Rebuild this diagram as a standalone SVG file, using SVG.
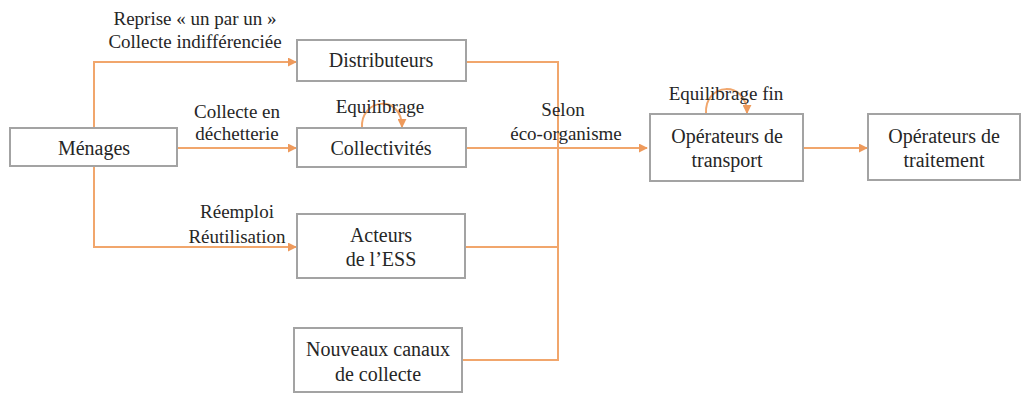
<svg xmlns="http://www.w3.org/2000/svg" width="1030" height="395" viewBox="0 0 1030 395" font-family="Liberation Serif, Tinos, DejaVu Serif, Noto Serif, serif">
<style>
.box{fill:#fff;stroke:#a3a3a3;stroke-width:2}
.t{font-size:19px;fill:#262626;text-anchor:middle}
.n{font-size:20px;fill:#262626;text-anchor:middle}
.c{fill:none;stroke:#f1a66c;stroke-width:2}
</style>
<defs>
<marker id="ah" viewBox="0 0 10 10" refX="9" refY="5" markerWidth="9" markerHeight="9" markerUnits="userSpaceOnUse" orient="auto">
<path d="M0,0 L10,5 L0,10 z" fill="#ee9a5c"/>
</marker>
</defs>
<rect width="1030" height="395" fill="#fff"/>
<g id="connectors">
<path class="c" d="M94,128 V62 H296" marker-end="url(#ah)"/>
<path class="c" d="M94,166 V247 H296" marker-end="url(#ah)"/>
<path class="c" d="M178,148 H296" marker-end="url(#ah)"/>
<path class="c" d="M466,62 H558 V360 H462"/>
<path class="c" d="M466,247 H558"/>
<path class="c" d="M466,148 H647" marker-end="url(#ah)"/>
<path class="c" d="M803,148 H867" marker-end="url(#ah)"/>
<path class="c" d="M362,128 C360,98 402,94 402,127" marker-end="url(#ah)"/>
<path class="c" d="M706,114 C704,82 747,80 747,113" marker-end="url(#ah)"/>
</g>
<g id="labels">
<text class="t" x="195" y="25">Reprise « un par un »</text>
<text class="t" x="195" y="48">Collecte indifférenciée</text>
<text class="t" x="237" y="118">Collecte en</text>
<text class="t" x="237" y="140">déchetterie</text>
<text class="t" x="380" y="113">Equilibrage</text>
<text class="t" x="563" y="116">Selon</text>
<text class="t" x="566" y="140">éco-organisme</text>
<text class="t" x="726" y="100">Equilibrage fin</text>
<text class="t" x="237" y="218">Réemploi</text>
<text class="t" x="237" y="243">Réutilisation</text>
</g>
<g id="menages">
<rect class="box" x="10" y="128" width="167" height="38"/>
<text class="n" x="94" y="155">Ménages</text>
</g>
<g id="distributeurs">
<rect class="box" x="297" y="40" width="169" height="41"/>
<text class="n" x="381" y="67">Distributeurs</text>
</g>
<g id="collectivites">
<rect class="box" x="297" y="128" width="169" height="39"/>
<text class="n" x="381" y="155">Collectivités</text>
</g>
<g id="acteurs">
<rect class="box" x="297" y="214" width="168" height="64"/>
<text class="n" x="381" y="242">Acteurs</text>
<text class="n" x="381" y="266">de l’ESS</text>
</g>
<g id="nouveaux">
<rect class="box" x="294" y="328" width="168" height="64"/>
<text class="n" x="378" y="356">Nouveaux canaux</text>
<text class="n" x="378" y="381">de collecte</text>
</g>
<g id="transport">
<rect class="box" x="650" y="114" width="153" height="67"/>
<text class="n" x="727" y="143">Opérateurs de</text>
<text class="n" x="727" y="167">transport</text>
</g>
<g id="traitement">
<rect class="box" x="868" y="114" width="152" height="66"/>
<text class="n" x="944" y="143">Opérateurs de</text>
<text class="n" x="944" y="167">traitement</text>
</g>
</svg>
